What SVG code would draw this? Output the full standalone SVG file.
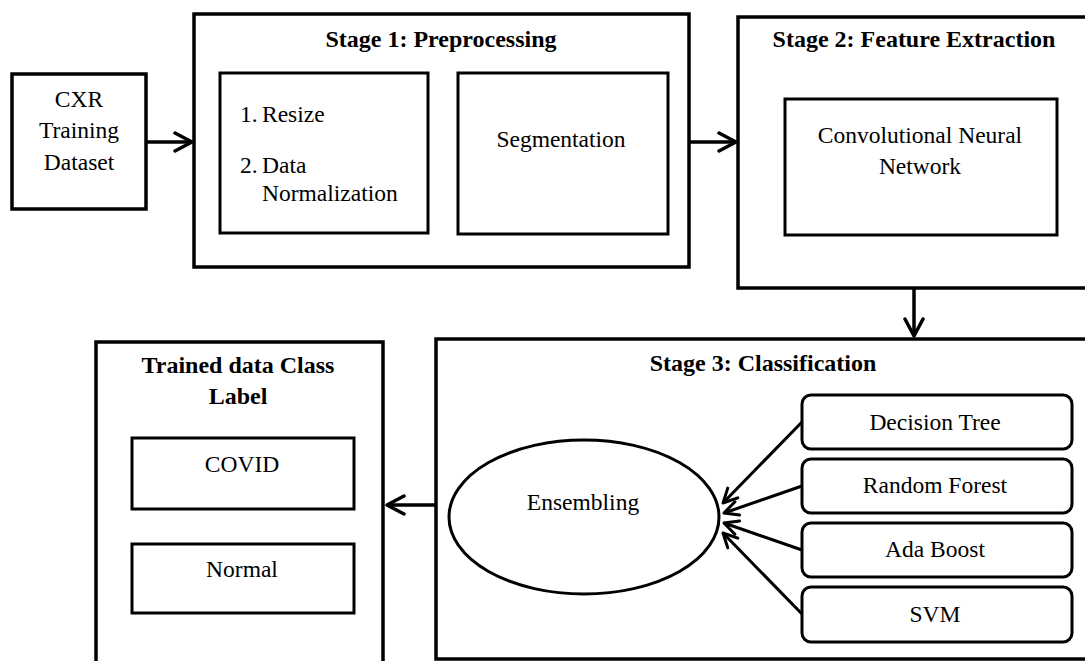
<svg xmlns="http://www.w3.org/2000/svg" width="1085" height="661" viewBox="0 0 1085 661">
  <style>
    .box { fill: #ffffff; stroke: #000000; stroke-width: 3.5; }
    .inner { fill: #ffffff; stroke: #000000; stroke-width: 3; }
    .title { font-family: "Liberation Serif", "Times New Roman", serif; font-weight: bold; font-size: 24px; fill: #000000; text-anchor: middle; }
    .label { font-family: "Liberation Serif", "Times New Roman", serif; font-size: 23.5px; fill: #000000; text-anchor: middle; }
    .left { text-anchor: start; }
    .wire { fill: none; stroke: #000000; stroke-width: 3.5; }
    .thin { fill: none; stroke: #000000; stroke-width: 3; }
  </style>
  <defs>
    <marker id="chev" viewBox="0 0 22 22" refX="20" refY="11" markerWidth="22" markerHeight="22" markerUnits="userSpaceOnUse" orient="auto">
      <path d="M3,2 L20,11 L3,20" fill="none" stroke="#000000" stroke-width="3.5" stroke-linecap="round" stroke-linejoin="round"/>
    </marker>
    <marker id="chevSmall" viewBox="0 0 18 18" refX="16" refY="9" markerWidth="18" markerHeight="18" markerUnits="userSpaceOnUse" orient="auto">
      <path d="M2,2 L16,9 L2,16" fill="none" stroke="#000000" stroke-width="3" stroke-linecap="round" stroke-linejoin="round"/>
    </marker>
  </defs>

  <rect width="1085" height="661" fill="#ffffff"/>

  <!-- input dataset -->
  <g id="cxr-dataset">
    <rect class="box" x="12" y="74" width="134" height="135"/>
    <text class="label" x="79" y="107">CXR</text>
    <text class="label" x="79" y="138">Training</text>
    <text class="label" x="79" y="170">Dataset</text>
  </g>

  <!-- stage 1 -->
  <g id="stage1">
    <rect class="box" x="194" y="14" width="495" height="253"/>
    <text class="title" x="441" y="47">Stage 1: Preprocessing</text>
  </g>
  <g id="resize-normalize">
    <rect class="inner" x="220" y="73" width="208" height="160"/>
    <text class="label left" x="240" y="122">1.</text>
    <text class="label left" x="262" y="122">Resize</text>
    <text class="label left" x="240" y="173">2.</text>
    <text class="label left" x="262" y="173">Data</text>
    <text class="label left" x="262" y="201">Normalization</text>
  </g>
  <g id="segmentation">
    <rect class="inner" x="458" y="73" width="210" height="161"/>
    <text class="label" x="561" y="147">Segmentation</text>
  </g>

  <!-- stage 2 -->
  <g id="stage2">
    <rect class="box" x="738" y="17" width="360" height="271"/>
    <text class="title" x="914" y="47">Stage 2: Feature Extraction</text>
  </g>
  <g id="cnn">
    <rect class="inner" x="785" y="99" width="272" height="136"/>
    <text class="label" x="920" y="143">Convolutional Neural</text>
    <text class="label" x="920" y="174">Network</text>
  </g>

  <!-- stage 3 -->
  <g id="stage3">
    <rect class="box" x="436" y="339" width="660" height="320"/>
    <text class="title" x="763" y="371">Stage 3: Classification</text>
  </g>
  <g id="ensembling">
    <ellipse class="thin" cx="584" cy="517" rx="135" ry="77" fill="#ffffff"/>
    <text class="label" x="583" y="510">Ensembling</text>
  </g>
  <g id="decision-tree">
    <rect class="inner" x="802" y="395" width="270" height="54" rx="9"/>
    <text class="label" x="935" y="430">Decision Tree</text>
  </g>
  <g id="random-forest">
    <rect class="inner" x="802" y="459" width="270" height="54" rx="9"/>
    <text class="label" x="935" y="493">Random Forest</text>
  </g>
  <g id="ada-boost">
    <rect class="inner" x="802" y="523" width="270" height="54" rx="9"/>
    <text class="label" x="935" y="557">Ada Boost</text>
  </g>
  <g id="svm">
    <rect class="inner" x="802" y="587" width="270" height="55" rx="9"/>
    <text class="label" x="935" y="622">SVM</text>
  </g>

  <!-- output labels -->
  <g id="class-label">
    <rect class="box" x="96" y="342" width="287" height="340"/>
    <text class="title" x="238" y="373">Trained data Class</text>
    <text class="title" x="238" y="404">Label</text>
  </g>
  <g id="covid">
    <rect class="inner" x="132" y="438" width="222" height="71"/>
    <text class="label" x="242" y="472">COVID</text>
  </g>
  <g id="normal">
    <rect class="inner" x="132" y="544" width="222" height="69"/>
    <text class="label" x="242" y="577">Normal</text>
  </g>

  <!-- connectors -->
  <g id="connectors">
    <line class="wire" x1="146" y1="142" x2="192" y2="142" marker-end="url(#chev)"/>
    <line class="wire" x1="689" y1="142" x2="736" y2="142" marker-end="url(#chev)"/>
    <line class="wire" x1="914" y1="288" x2="914" y2="336" marker-end="url(#chev)"/>
    <line class="wire" x1="436" y1="505" x2="387" y2="505" marker-end="url(#chev)"/>
    <line class="thin" x1="802" y1="422" x2="723" y2="503" marker-end="url(#chevSmall)"/>
    <line class="thin" x1="802" y1="486" x2="724" y2="513" marker-end="url(#chevSmall)"/>
    <line class="thin" x1="802" y1="550" x2="724" y2="523" marker-end="url(#chevSmall)"/>
    <line class="thin" x1="802" y1="614" x2="723" y2="533" marker-end="url(#chevSmall)"/>
  </g>
</svg>
